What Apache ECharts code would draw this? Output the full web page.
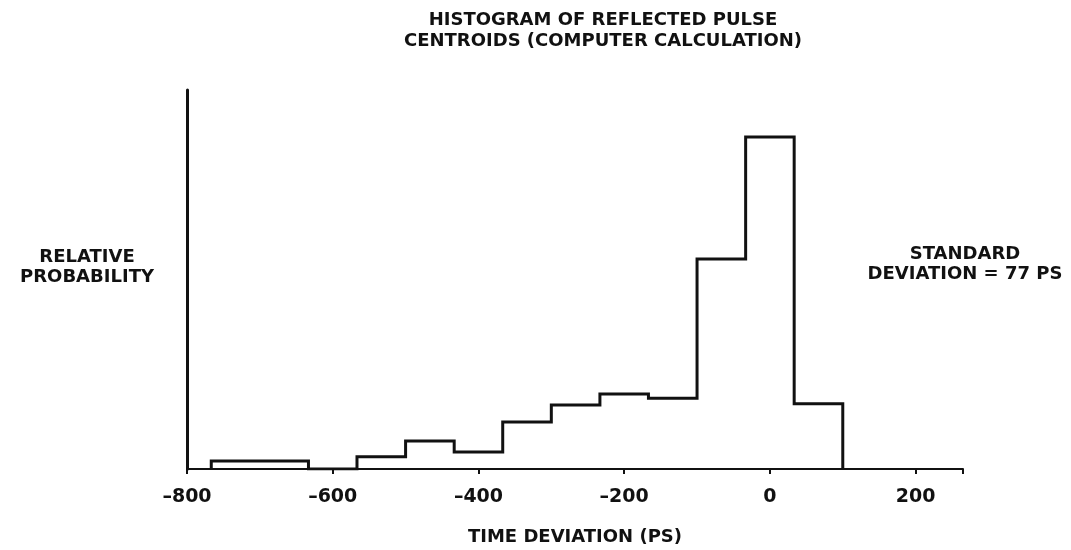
<!DOCTYPE html>
<html>
<head>
<meta charset="utf-8">
<script src="https://cdn.jsdelivr.net/npm/echarts@6/dist/echarts.min.js"></script>
<style>
  html, body { margin: 0; padding: 0; background: #fff; }
  #echarts { width: 1071px; height: 550px; }
</style>
</head>
<body>
<div id="echarts"></div>
<script>
// 直方图的边界 (ps)，每格 200/3
const binEdges = [-766.7, -633.3, -566.7, -500, -433.3, -366.7, -300, -233.3, -166.7, -100, -33.3, 33.3, 100]
// 每格的相对概率 (轴顶 = 100)
const binHeights = [2.1, 0, 3.2, 7.4, 4.5, 12.4, 16.9, 19.8, 18.7, 55.4, 87.6, 17.2]
const xTicks = [-800, -600, -400, -200, 0, 200]

const FONT = '"DejaVu Sans", "Liberation Sans", Arial, sans-serif'

// 阶梯线的点：先从基线起，再到每格的顶部
const stepData = [[binEdges[0], 0]]
binHeights.forEach((h, i) => stepData.push([binEdges[i], h]))
stepData.push([binEdges[binEdges.length - 1], 0])

const chart = echarts.init(document.querySelector('#echarts'))

chart.setOption({
  backgroundColor: '#fff',
  animation: false,
  title: {
    text: 'HISTOGRAM OF REFLECTED PULSE\nCENTROIDS (COMPUTER CALCULATION)',
    left: 598,
    top: 5,
    textAlign: 'center',
    textStyle: {
      fontFamily: FONT,
      fontSize: 18,
      fontWeight: 'bold',
      color: '#111',
      lineHeight: 21,
    },
  },
  grid: { left: 187, right: 108, top: 90, bottom: 81, outerBoundsMode: 'none', containLabel: false },
  xAxis: {
    type: 'value',
    min: -800,
    max: 265,
    interval: 200,
    splitLine: { show: false },
    axisLine: { onZero: false, lineStyle: { color: '#111', width: 2 } },
    axisTick: {
      show: true,
      length: 5,
      lineStyle: { color: '#111', width: 2 },
    },
    axisLabel: {
      margin: 19,
      customValues: xTicks,
      fontFamily: FONT,
      fontSize: 19,
      fontWeight: 'bold',
      color: '#111',
      formatter: (v) => (v < 0 ? '\u2013' + Math.abs(v) : String(v)),
    },
    name: 'TIME DEVIATION (PS)',
    nameLocation: 'middle',
    nameGap: 59,
    nameTextStyle: { fontFamily: FONT, fontSize: 18, fontWeight: 'bold', color: '#111' },
  },
  yAxis: {
    type: 'value',
    min: 0,
    max: 100,
    splitLine: { show: false },
    axisLine: { show: true, onZero: false, lineStyle: { color: '#111', width: 3 } },
    axisTick: { show: false },
    axisLabel: { show: false },
  },
  graphic: [
    {
      type: 'text',
      x: 87,
      y: 247,
      style: {
        text: 'RELATIVE\nPROBABILITY',
        align: 'center',
        fontFamily: FONT,
        fontSize: 18,
        fontWeight: 'bold',
        lineHeight: 20,
        fill: '#111',
      },
    },
    {
      type: 'text',
      x: 965,
      y: 244,
      style: {
        text: 'STANDARD\nDEVIATION = 77 PS',
        align: 'center',
        fontFamily: FONT,
        fontSize: 18,
        fontWeight: 'bold',
        lineHeight: 20,
        fill: '#111',
      },
    },
  ],
  series: [
    {
      type: 'line',
      step: 'end',
      data: stepData,
      symbol: 'none',
      lineStyle: { color: '#111', width: 3, join: 'miter' },
    },
  ],
})
</script>
</body>
</html>
